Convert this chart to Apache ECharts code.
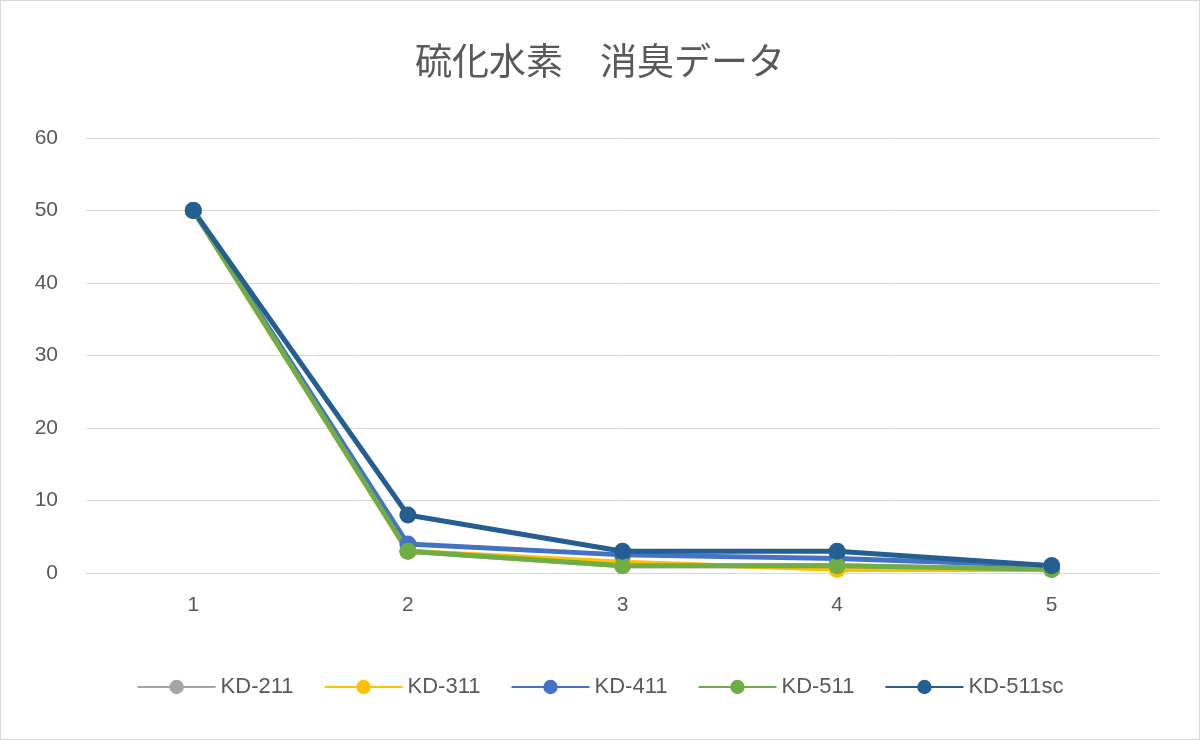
<!DOCTYPE html><html><head><meta charset="utf-8"><script src="https://cdn.jsdelivr.net/npm/echarts@6/dist/echarts.min.js"></script>
<style>body{margin:0}#c{width:1200px;height:740px;box-sizing:border-box;border:1px solid #d9d9d9}</style></head><body><div id="c"></div><script>
const categories=['1','2','3','4','5'];
const names=['KD-211','KD-311','KD-411','KD-511','KD-511sc'];
const kd211=[50,3,1,1,0.5];
const kd311=[50,3,1.5,0.5,0.5];
const kd411=[50,4,2.5,2,1];
const kd511=[50,3,1,1,0.5];
const kd511sc=[50,8,3,3,1];
const colors=['#a5a5a5','#ffc000','#4472c4','#70ad47','#255e91'];
const data=[kd211,kd311,kd411,kd511,kd511sc];
const chart=echarts.init(document.getElementById('c'));
chart.setOption({
 title:{text:'硫化水素　消臭データ',left:'center',top:36,textStyle:{fontSize:37,fontWeight:'normal',color:'#595959',fontFamily:'Noto Sans CJK JP'}},
 legend:{bottom:36,itemWidth:78,itemHeight:18,itemGap:30,textStyle:{fontSize:22,color:'#595959'},data:names},
 grid:{left:85,right:40,top:137,bottom:166},
 xAxis:{type:'category',data:categories,axisTick:{show:false},axisLine:{lineStyle:{color:'#d9d9d9'}},axisLabel:{fontSize:21,color:'#595959',margin:22}},
 yAxis:{type:'value',min:0,max:60,interval:10,axisLabel:{fontSize:21,color:'#595959',margin:28},splitLine:{lineStyle:{color:'#d9d9d9'}}},
 series:names.map((n,i)=>({name:n,type:'line',data:data[i],symbol:'circle',symbolSize:17,color:colors[i],lineStyle:{width:5}}))
});
</script></body></html>
